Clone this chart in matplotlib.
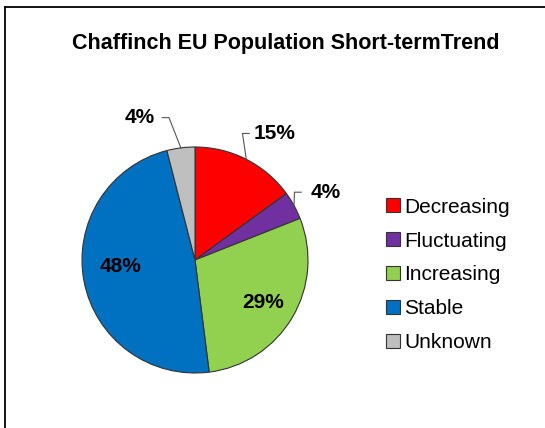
import numpy as np
import matplotlib

matplotlib.use("Agg")
import matplotlib.pyplot as plt
from matplotlib.lines import Line2D
from matplotlib.patches import Patch

categories = ["Decreasing", "Fluctuating", "Increasing", "Stable", "Unknown"]
shares = [15, 4, 29, 48, 4]
colors = ["#FF0000", "#7030A0", "#92D050", "#0070C0", "#BFBFBF"]
title = "Chaffinch EU Population Short-termTrend"

plt.rcParams["font.family"] = ["Liberation Sans", "DejaVu Sans"]

W, H = 545, 428
fig = plt.figure(figsize=(W / 100, H / 100), dpi=100)

# frame lines (top + left only, as in the original)
fig.add_artist(Line2D([5 / W, 1], [1 - 7 / H, 1 - 7 / H], color="black", lw=1.3))
fig.add_artist(Line2D([5 / W, 5 / W], [1 - 7 / H, 0], color="black", lw=1.3))

fig.text(286 / W, 1 - 43 / H, title, ha="center", va="center",
         fontsize=15.5, fontweight="bold")

cx, cy, r = 195, 260, 113
ax = fig.add_axes([(cx - r) / W, (H - cy - r) / H, 2 * r / W, 2 * r / H])
wedges, _ = ax.pie(shares, colors=colors, startangle=90, counterclock=False,
                   wedgeprops={"edgecolor": "#333333", "linewidth": 0.8})
ax.set_xlim(-1, 1)
ax.set_ylim(-1, 1)
ax.set_aspect("auto")

# label layout: (text x, text y, leader?) in pie units
layout = {
    "Decreasing": (0.70, 1.12, True),
    "Fluctuating": (1.16, 0.60, True),
    "Increasing": (0.60, -0.38, False),
    "Stable": (-0.66, -0.06, False),
    "Unknown": (-0.49, 1.26, True),
}

for w, name, val in zip(wedges, categories, shares):
    tx, ty, leader = layout[name]
    label = f"{val}%"
    if not leader:
        ax.text(tx, ty, label, ha="center", va="center", fontsize=15, fontweight="bold")
        continue
    mid = np.deg2rad((w.theta1 + w.theta2) / 2)
    ex, ey = np.cos(mid), np.sin(mid)
    if tx > 0:
        kx = tx - 0.22
        ax.plot([ex, kx - 0.06, kx], [ey, ty, ty], color="#555555", lw=0.8, clip_on=False)
    else:
        kx = tx + 0.20
        ax.plot([ex, kx + 0.06, kx], [ey, ty, ty], color="#555555", lw=0.8, clip_on=False)
    ax.text(tx, ty, label, ha="center", va="center", fontsize=15, fontweight="bold")

handles = [Patch(facecolor=c, edgecolor="#333333", linewidth=0.8) for c in colors]
fig.legend(handles, categories, loc="center left", bbox_to_anchor=(378 / W, 1 - 275 / H),
           frameon=False, fontsize=15, handlelength=0.65, handleheight=0.65,
           handletextpad=0.2, labelspacing=0.72, borderaxespad=0)

fig.savefig("out.png", dpi=100)
